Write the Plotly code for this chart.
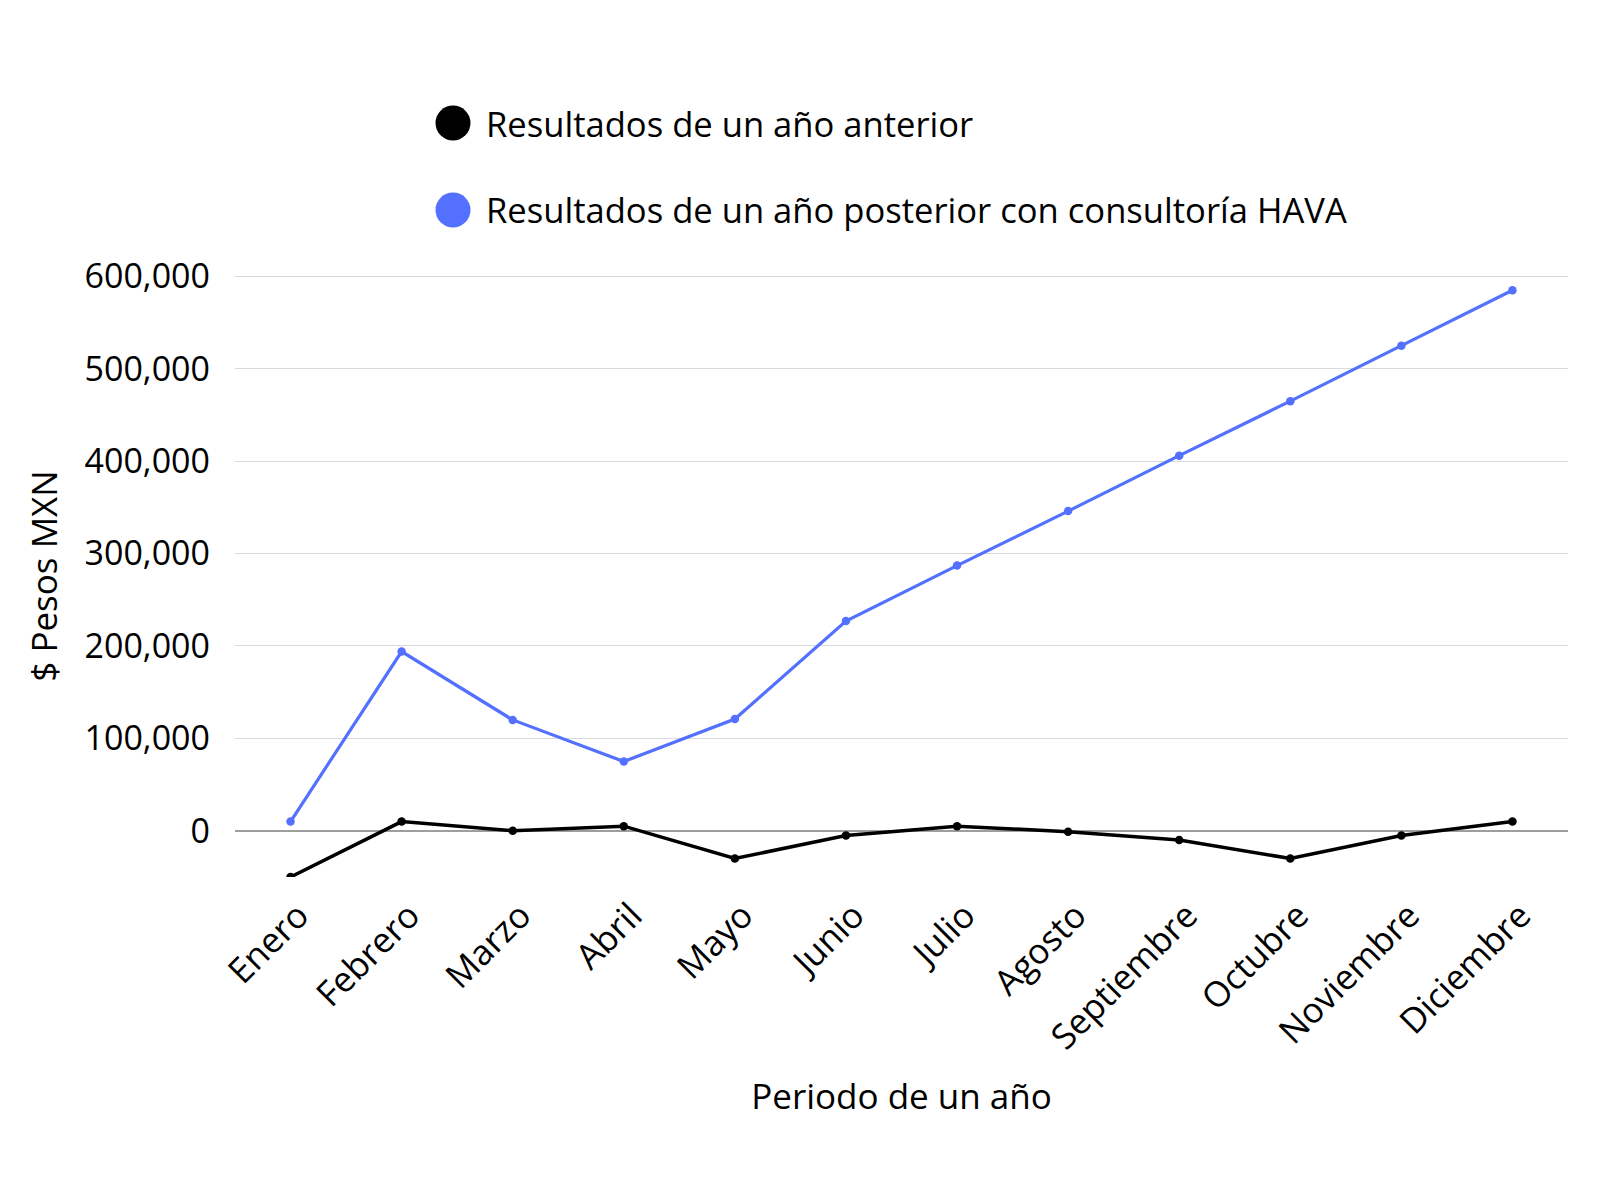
import plotly.graph_objects as go

meses = ['Enero', 'Febrero', 'Marzo', 'Abril', 'Mayo', 'Junio', 'Julio',
         'Agosto', 'Septiembre', 'Octubre', 'Noviembre', 'Diciembre']
anterior = [-50000, 10000, 0, 5000, -30000, -5000, 5000,
            -1000, -10000, -30000, -5000, 10000]
posterior = [10000, 194000, 120000, 75000, 121000, 227000, 287000,
             346000, 406000, 465000, 525000, 585000]

nombres = ['Resultados de un año anterior',
           'Resultados de un año posterior con consultoría HAVA']
colores = ['#000000', '#5470ff']

FONT = 'Open Sans'

fig = go.Figure()
fig.add_trace(go.Scatter(x=meses, y=anterior, name=nombres[0], mode='lines+markers',
                         line=dict(color=colores[0], width=3.5),
                         marker=dict(size=8.5, color=colores[0])))
fig.add_trace(go.Scatter(x=meses, y=posterior, name=nombres[1], mode='lines+markers',
                         line=dict(color=colores[1], width=3.2),
                         marker=dict(size=8.5, color=colores[1])))

# leyenda dibujada a mano: circulos grandes + texto
for i, (nombre, color) in enumerate(zip(nombres, colores)):
    yc = 1.0 + (152 - i * 87) / 602
    fig.add_shape(type='circle', xref='paper', yref='paper',
                  xsizemode='pixel', ysizemode='pixel',
                  xanchor=(453 - 235) / 1333, yanchor=yc,
                  x0=-17.5, x1=17.5, y0=-17.5, y1=17.5,
                  fillcolor=color, line=dict(width=0))
    fig.add_annotation(text=nombre, xref='paper', yref='paper',
                       x=(484 - 235) / 1333, y=yc, xanchor='left', yanchor='middle',
                       showarrow=False, font=dict(size=34.6, color='black', family=FONT))

# la pagina tiene 8px de margen en body, se compensa en los margenes
fig.update_layout(
    width=1600, height=1200,
    margin=dict(l=227, r=40, t=267, b=331),
    paper_bgcolor='white', plot_bgcolor='white',
    font=dict(family=FONT, size=35, color='black'),
    showlegend=False,
)
fig.update_xaxes(tickangle=-45, showgrid=False, showline=False,
                 range=[-0.5, 11.5], ticklabelstandoff=10, ticklabelshift=8,
                 title=dict(text='Periodo de un año', standoff=26,
                            font=dict(size=35)))
fig.update_yaxes(range=[-50000, 601500], dtick=100000, tickformat=',d',
                 tickfont=dict(size=34),
                 gridcolor='#d9d9d9', gridwidth=1,
                 zeroline=True, zerolinecolor='#9e9e9e', zerolinewidth=1.5,
                 ticklabelstandoff=24,
                 title=dict(text='$ Pesos MXN', standoff=16, font=dict(size=35)))

fig.write_html('out.html')
